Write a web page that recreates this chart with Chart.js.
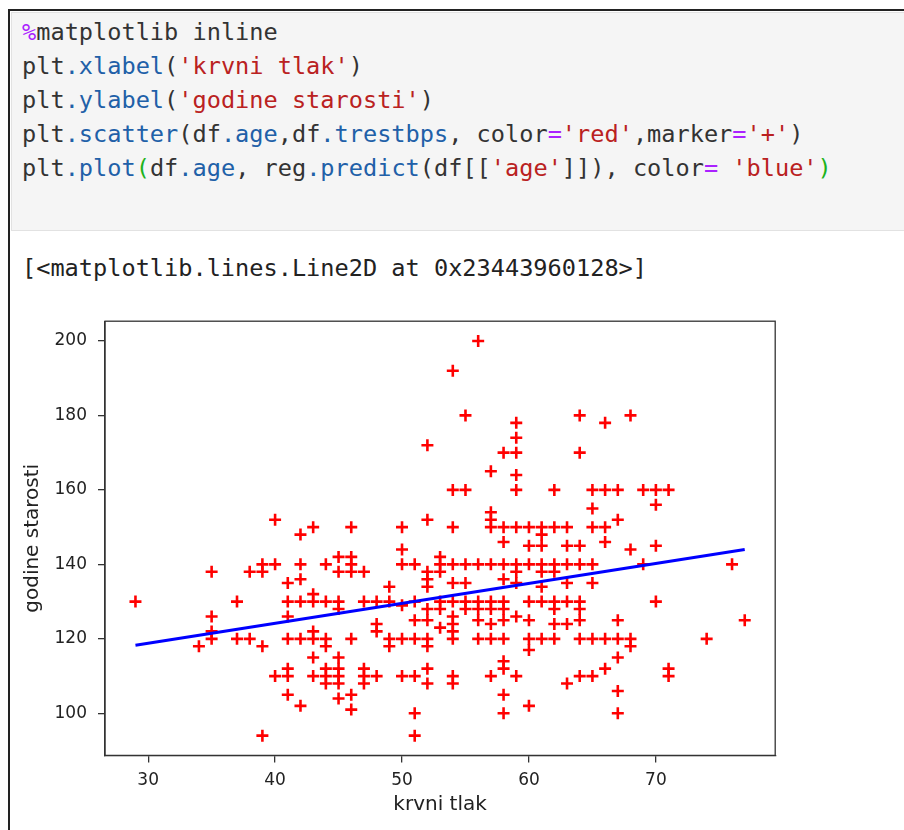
<!DOCTYPE html>
<html>
<head>
<meta charset="utf-8">
<script src="https://cdn.jsdelivr.net/npm/chart.js@4.4.1/dist/chart.umd.min.js"></script>
<style>
  html, body { margin: 0; padding: 0; background: #fff; width: 904px; height: 830px; overflow: hidden; }
  .frame { position: absolute; left: 8px; top: 9px; width: 920px; height: 850px; border-left: 2px solid #222; border-top: 2px solid #222; }
  .cell { position: absolute; left: 11px; top: 12px; width: 900px; height: 217px; background: #f5f5f5; border: 1px solid #e2e2e2; }
  pre { margin: 0; position: absolute; left: 22px; font-family: "DejaVu Sans Mono", monospace; font-size: 23.6px; line-height: 34px; color: #333; }
  .code { top: 15px; }
  .out { top: 251px; color: #222; }
  .mg { color: #aa22ff; }
  .pr { color: #2160a8; }
  .st { color: #ba2121; }
  .op { color: #aa22ff; }
  .br { color: #1db31d; }
  #plot { position: absolute; left: 0; top: 300px; }
</style>
</head>
<body>
<div class="frame"></div>
<div class="cell"></div>
<pre class="code"><span class="mg">%</span>matplotlib inline
plt<span class="pr">.xlabel</span>(<span class="st">'krvni tlak'</span>)
plt<span class="pr">.ylabel</span>(<span class="st">'godine starosti'</span>)
plt<span class="pr">.scatter</span>(df<span class="pr">.age</span>,df<span class="pr">.trestbps</span>, color<span class="op">=</span><span class="st">'red'</span>,marker<span class="op">=</span><span class="st">'+'</span>)
plt<span class="pr">.plot</span><span class="br">(</span>df<span class="pr">.age</span>, reg<span class="pr">.predict</span>(df[[<span class="st">'age'</span>]]), color<span class="op">=</span> <span class="st">'blue'</span><span class="br">)</span></pre>
<pre class="out">[&lt;matplotlib.lines.Line2D at 0x23443960128&gt;]</pre>
<canvas id="plot" width="904" height="530"></canvas>
<script>
// df.age (x) and df.trestbps (y)
const ages = [
  29,
  34,
  35, 35, 35, 35,
  37, 37,
  38, 38,
  39, 39, 39, 39,
  40, 40, 40,
  41, 41, 41, 41, 41, 41, 41,
  42, 42, 42, 42, 42, 42,
  43, 43, 43, 43, 43, 43, 43,
  44, 44, 44, 44, 44, 44, 44,
  45, 45, 45, 45, 45, 45, 45, 45, 45,
  46, 46, 46, 46, 46, 46, 46,
  47, 47, 47, 47, 47,
  48, 48, 48, 48,
  49, 49, 49, 49,
  50, 50, 50, 50, 50, 50,
  51, 51, 51, 51, 51, 51, 51,
  52, 52, 52, 52, 52, 52, 52, 52, 52, 52, 52,
  53, 53, 53, 53, 53, 53,
  54, 54, 54, 54, 54, 54, 54, 54, 54, 54, 54, 54,
  55, 55, 55, 55, 55, 55,
  56, 56, 56, 56, 56, 56,
  57, 57, 57, 57, 57, 57, 57, 57, 57, 57,
  58, 58, 58, 58, 58, 58, 58, 58, 58, 58, 58, 58, 58,
  59, 59, 59, 59, 59, 59, 59, 59, 59, 59, 59,
  60, 60, 60, 60, 60, 60, 60, 60,
  61, 61, 61, 61, 61, 61, 61, 61,
  62, 62, 62, 62, 62, 62, 62, 62,
  63, 63, 63, 63, 63, 63, 63,
  64, 64, 64, 64, 64, 64, 64, 64, 64,
  65, 65, 65, 65, 65, 65, 65,
  66, 66, 66, 66, 66, 66,
  67, 67, 67, 67, 67, 67, 67,
  68, 68, 68, 68,
  69, 69,
  70, 70, 70, 70,
  71, 71, 71,
  74,
  76,
  77
];
const trestbps = [
  130,
  118,
  138, 126, 122, 120,
  130, 120,
  138, 120,
  140, 138, 118, 94,
  152, 140, 110,
  135, 130, 126, 120, 112, 110, 105,
  148, 140, 136, 130, 120, 102,
  150, 132, 130, 122, 120, 115, 110,
  140, 130, 120, 118, 112, 110, 108,
  142, 138, 130, 128, 115, 112, 110, 108, 104,
  150, 142, 140, 138, 120, 105, 101,
  138, 130, 112, 110, 108,
  130, 124, 122, 110,
  134, 130, 120, 118,
  150, 144, 140, 129, 120, 110,
  140, 130, 125, 120, 110, 100, 94,
  172, 152, 138, 136, 134, 128, 125, 120, 118, 112, 108,
  142, 140, 138, 130, 128, 123,
  192, 160, 150, 140, 135, 130, 126, 124, 122, 120, 110, 108,
  180, 160, 140, 135, 130, 128,
  200, 140, 130, 128, 125, 120,
  165, 154, 152, 150, 140, 130, 128, 124, 120, 110,
  170, 150, 146, 140, 136, 130, 128, 125, 120, 114, 112, 105, 100,
  178, 174, 170, 164, 160, 150, 140, 138, 135, 126, 110,
  150, 145, 140, 130, 125, 120, 117, 102,
  150, 148, 145, 140, 138, 134, 130, 120,
  160, 150, 140, 138, 130, 128, 124, 120,
  150, 145, 140, 135, 130, 124, 108,
  180, 170, 145, 140, 130, 128, 125, 120, 110,
  160, 155, 150, 140, 135, 120, 110,
  178, 160, 150, 146, 120, 112,
  160, 152, 125, 120, 115, 106, 100,
  180, 144, 120, 118,
  160, 140,
  160, 156, 145, 130,
  160, 112, 110,
  120,
  140,
  125
];

// reg.predict(df[['age']]) at the two ends of the age range
const fitAges = [29, 77];
const fitBps = [118.3, 144.0];

const xTicks = [30, 40, 50, 60, 70];
const yTicks = [100, 120, 140, 160, 180, 200];

const axisColor = '#333';
const tickFont = { family: 'DejaVu Sans', size: 17 };
const titleFont = { family: 'DejaVu Sans', size: 20 };

// matplotlib draws a full box round the axes
const frameBox = {
  id: 'frameBox',
  afterDatasetsDraw(chart) {
    const { ctx, chartArea: a } = chart;
    ctx.save();
    ctx.strokeStyle = axisColor;
    ctx.lineWidth = 1.3;
    ctx.strokeRect(a.left, a.top, a.right - a.left, a.bottom - a.top);
    ctx.restore();
  }
};

new Chart(document.getElementById('plot'), {
  type: 'scatter',
  data: {
    datasets: [
      {
        label: 'fit',
        type: 'line',
        data: fitAges.map((a, i) => ({ x: a, y: fitBps[i] })),
        borderColor: '#0000ff',
        borderWidth: 3,
        pointRadius: 0,
        fill: false,
        order: 0
      },
      {
        label: 'trestbps',
        data: ages.map((a, i) => ({ x: a, y: trestbps[i] })),
        pointStyle: 'cross',
        pointRadius: 6,
        pointHoverRadius: 6,
        borderColor: '#ff0000',
        backgroundColor: '#ff0000',
        borderWidth: 2.6,
        order: 1
      }
    ]
  },
  options: {
    responsive: false,
    animation: false,
    layout: { padding: { left: 0, top: 19.3, right: 128.8, bottom: 0 } },
    plugins: { legend: { display: false }, tooltip: { enabled: false } },
    scales: {
      x: {
        type: 'linear',
        min: 26.6,
        max: 79.4,
        afterFit: s => { s.height = 74.6; },
        afterBuildTicks: s => { s.ticks = xTicks.map(v => ({ value: v })); },
        grid: { drawOnChartArea: false, drawTicks: true, tickLength: 7, color: axisColor, lineWidth: 1.3 },
        border: { display: true, color: axisColor, width: 1.3 },
        ticks: { color: '#222', font: tickFont, padding: 8, maxRotation: 0 },
        title: { display: true, text: 'krvni tlak', color: '#222', font: titleFont, padding: { top: 0, bottom: 13 } }
      },
      y: {
        type: 'linear',
        min: 88.7,
        max: 205.3,
        afterFit: s => { s.width = 105; },
        afterBuildTicks: s => { s.ticks = yTicks.map(v => ({ value: v })); },
        grid: { drawOnChartArea: false, drawTicks: true, tickLength: 7, color: axisColor, lineWidth: 1.3 },
        border: { display: true, color: axisColor, width: 1.3 },
        ticks: { color: '#222', font: tickFont, padding: 11 },
        title: { display: true, text: 'godine starosti', color: '#222', font: titleFont, padding: { top: 21, bottom: 0 } }
      }
    }
  },
  plugins: [frameBox]
});
</script>
</body>
</html>
